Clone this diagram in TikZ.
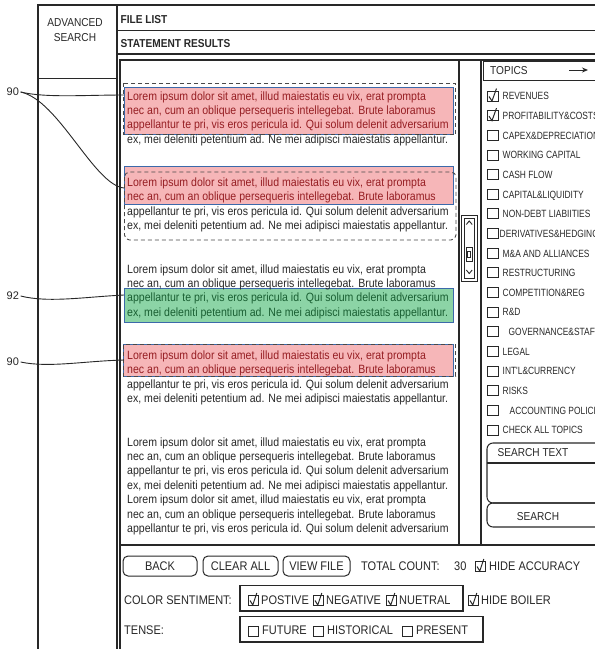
\documentclass[tikz,border=0pt]{standalone}
\usepackage{fontspec}
\setmainfont{Liberation Sans}
\newfontfamily\bodyf[FakeStretch=0.88]{Liberation Sans}
\newfontfamily\topf[FakeStretch=0.8]{Liberation Sans}
\usetikzlibrary{arrows.meta}
\definecolor{ink}{RGB}{40,40,40}
\definecolor{hlred}{RGB}{246,182,184}
\definecolor{hlgreen}{RGB}{140,212,166}
\definecolor{hlblue}{RGB}{60,105,170}
\definecolor{redtxt}{RGB}{150,30,35}
\definecolor{greentxt}{RGB}{25,95,50}
\newcommand\LoremA{Lorem ipsum dolor sit amet, illud maiestatis eu vix, erat prompta}
\newcommand\LoremB{nec an, cum an oblique persequeris intellegebat. Brute laboramus}
\newcommand\LoremC{appellantur te pri, vis eros pericula id. Qui solum delenit adversarium}
\newcommand\LoremD{ex, mei deleniti petentium ad. Ne mei adipisci maiestatis appellantur.}
\begin{document}
\begin{tikzpicture}[x=1pt,y=-1pt,
  frame/.style={draw=ink, line width=1.05pt},
  bodytxt/.style={anchor=base west, inner sep=0pt, text=ink, font=\bodyf\fontsize{12}{14}\selectfont},
  uitxt/.style={inner sep=0pt, text=ink, font=\bodyf\fontsize{11.5}{14}\selectfont},
  bottxt/.style={anchor=base west, inner sep=0pt, text=ink, font=\bodyf\fontsize{12.5}{14}\selectfont},
  toptxt/.style={anchor=base west, inner sep=0pt, text=ink, font=\topf\fontsize{10.5}{12}\selectfont},
  labtxt/.style={anchor=west, inner sep=1.5pt, text=ink, font=\fontsize{11}{13}\selectfont},
  cbox/.style={draw=ink, line width=0.9pt, minimum width=11pt, minimum height=10pt, inner sep=0pt},
  cbsmall/.style={draw=ink, line width=0.9pt, minimum width=10pt, minimum height=10pt, inner sep=0pt},
  checkmk/.style={draw=ink, line width=1pt},
  btn/.style={draw=ink, line width=1pt, rounded corners=5pt, minimum height=20pt, inner sep=0pt, text=ink, font=\bodyf\fontsize{12.5}{14}\selectfont},
  redhl/.style={fill=hlred, draw=hlblue, line width=0.9pt},
  greenhl/.style={fill=hlgreen, draw=hlblue, line width=0.9pt},
  dashbox/.style={draw=ink!85, line width=0.9pt, dash pattern=on 4pt off 3pt},
  leader/.style={draw=ink, line width=0.9pt}
]
\useasboundingbox (0,0) rectangle (595,649);
\clip (0,0) rectangle (595,649);
\fill[white] (0,0) rectangle (595,649);

% ---- frame ----
\draw[frame] (38,652) -- (38,5) -- (600,5);
\draw[frame] (117,5) -- (117,652);
\draw[frame] (38,78.5) -- (117,78.5);
\draw[frame] (117,30.5) -- (600,30.5);
\draw[frame] (117,54) -- (600,54);
\draw[frame] (120,652) -- (120,60) -- (600,60);
\draw[frame] (120,545) -- (600,545);
\draw[frame] (459,60) -- (459,545);
\draw[frame] (481,60) -- (481,545);

% ---- headers ----
\node[uitxt, anchor=base] (adv1) at (75,26.5) {ADVANCED};
\node[uitxt, anchor=base] (adv2) at (75,41.5) {SEARCH};
\node[uitxt, anchor=base west, font=\bodyf\bfseries\fontsize{11.5}{14}\selectfont] (filelist) at (120.5,23) {FILE LIST};
\node[uitxt, anchor=base west, font=\bodyf\bfseries\fontsize{11.5}{14}\selectfont] (stmt) at (120.5,47) {STATEMENT RESULTS};

% ---- highlights ----
\path[redhl] (124,87) rectangle (453,134);
\path[redhl] (124,166) rectangle (453,204);
\path[greenhl] (124,288) rectangle (453,322);
\path[redhl] (123,344) rectangle (453,376);
\path[dashbox] (123,83) rectangle (455.5,134.5);
\path[dashbox, rounded corners=5pt] (124.5,172) rectangle (456,240);
\path[dashbox] (123,344.5) rectangle (455.5,376);

% ---- body text ----
\node[bodytxt, text=redtxt] (b1l1) at (127,100) {\LoremA};
\node[bodytxt, text=redtxt] (b1l2) at (127,114.4) {\LoremB};
\node[bodytxt, text=redtxt] (b1l3) at (127,128.8) {\LoremC};
\node[bodytxt] (b1l4) at (127,143.2) {\LoremD};

\node[bodytxt, text=redtxt] (b2l1) at (127,186.5) {\LoremA};
\node[bodytxt, text=redtxt] (b2l2) at (127,200.9) {\LoremB};
\node[bodytxt] (b2l3) at (127,215.3) {\LoremC};
\node[bodytxt] (b2l4) at (127,229.7) {\LoremD};

\node[bodytxt] (b3l1) at (127,273) {\LoremA};
\node[bodytxt] (b3l2) at (127,287.4) {\LoremB};
\node[bodytxt, text=greentxt] (b3l3) at (127,301.8) {\LoremC};
\node[bodytxt, text=greentxt] (b3l4) at (127,316.2) {\LoremD};

\node[bodytxt, text=redtxt] (b4l1) at (127,359.5) {\LoremA};
\node[bodytxt, text=redtxt] (b4l2) at (127,373.9) {\LoremB};
\node[bodytxt] (b4l3) at (127,388.3) {\LoremC};
\node[bodytxt] (b4l4) at (127,402.7) {\LoremD};

\node[bodytxt] (b5l1) at (127,446) {\LoremA};
\node[bodytxt] (b5l2) at (127,460.4) {\LoremB};
\node[bodytxt] (b5l3) at (127,474.8) {\LoremC};
\node[bodytxt] (b5l4) at (127,489.2) {\LoremD};
\node[bodytxt] (b5l5) at (127,503.6) {\LoremA};
\node[bodytxt] (b5l6) at (127,518) {\LoremB};
\node[bodytxt] (b5l7) at (127,532.4) {\LoremC};

% ---- reference labels and leaders ----
\node[labtxt] (lab90a) at (5,92) {90};
\node[labtxt] (lab92) at (5,296) {92};
\node[labtxt] (lab90b) at (5,362) {90};
\coordinate (e1) at (124,95);
\coordinate (e2) at (124,188);
\coordinate (e3) at (124,295);
\coordinate (e4) at (124,360);
\draw[leader] (lab90a.east) .. controls +(25,6) and +(-40,0) .. (e1);
\draw[leader] (lab90a.east) .. controls +(38,8) and +(-30,-3) .. (e2);
\draw[leader] (lab92.east) .. controls +(28,7) and +(-40,2) .. (e3);
\draw[leader] (lab90b.east) .. controls +(28,6) and +(-40,1) .. (e4);

% ---- scroll widget ----
\path[frame, line width=0.9pt] (461.5,215) rectangle (477,281.5);
\path[frame, line width=0.9pt] (464,218) rectangle (474.5,278.5);
\draw[frame, line width=0.9pt] (466.3,224.5) -- (469.25,221) -- (472.2,224.5);
\draw[frame, line width=0.9pt] (466.3,270) -- (469.25,273.5) -- (472.2,270);
\path[frame, line width=0.9pt] (466,247) rectangle (472.5,261);
\path[frame, line width=0.8pt] (467.8,251) rectangle (470.8,257);

% ---- topics panel ----
\node[draw=ink, line width=1.05pt, anchor=north west, minimum width=130pt, minimum height=19.5pt, inner sep=0pt] (topicsbox) at (483,60.5) {};
\node[uitxt, anchor=base west] (topicslab) at (490,74.5) {TOPICS};
\coordinate (arrS) at (569,70);
\coordinate (arrE) at (588,70);
\draw[draw=ink, line width=1pt, -{Stealth[length=6pt,width=5pt]}] (arrS) -- (arrE);

\foreach \lab/\dx [count=\i from 0] in {REVENUES/0, PROFITABILITY\&COSTS/0, CAPEX\&DEPRECIATION/0, WORKING CAPITAL/0, CASH FLOW/0, CAPITAL\&LIQUIDITY/0, NON-DEBT LIABIITIES/0, DERIVATIVES\&HEDGING/-3, M\&A AND ALLIANCES/0, RESTRUCTURING/0, COMPETITION\&REG/0, R\&D/0, GOVERNANCE\&STAFF/6, LEGAL/0, INT'L\&CURRENCY/0, RISKS/0, ACCOUNTING POLICIES/7, CHECK ALL TOPICS/0} {
  \node[cbox] (tcb\i) at (492.5,{96+19.65*\i}) {};
  \node[toptxt] (ttx\i) at ({502.5+\dx},{99.8+19.65*\i}) {\lab};
}
\draw[checkmk] (tcb0.center) ++(-3.5,0.5) -- ++(3,4.5) -- ++(4.5,-12.5);
\draw[checkmk] (tcb1.center) ++(-3.5,0.5) -- ++(3,4.5) -- ++(4.5,-12.5);

% search box
\path[frame, rounded corners=6pt] (487,443) rectangle (615,503);
\draw[frame] (487,463) -- (615,463);
\path[frame, rounded corners=6pt] (487,503) rectangle (615,527);
\node[uitxt] (searchtext) at (533,452.5) {SEARCH TEXT};
\node[uitxt] (searchbtn) at (538,516.5) {SEARCH};

% ---- bottom controls ----
\node[btn, minimum width=74pt] (back) at (160,566) {BACK};
\node[btn, minimum width=75pt] (clear) at (240.5,566) {CLEAR ALL};
\node[btn, minimum width=67pt] (view) at (316.5,566) {VIEW FILE};
\node[bottxt] (total) at (361,570.5) {TOTAL COUNT:};
\node[bottxt] (count) at (454,570.5) {30};
\node[cbsmall] (cbacc) at (480,566) {};
\draw[checkmk] (cbacc.center) ++(-3,0.5) -- ++(2.8,4.5) -- ++(4,-12);
\node[bottxt] (hideacc) at (489,570.5) {HIDE ACCURACY};

\node[bottxt] (colsent) at (124,604.5) {COLOR SENTIMENT:};
\path[frame] (240,585.5) rectangle (463,611);
\node[cbsmall] (cbpos) at (253,600) {};
\node[bottxt] (pos) at (261,604.5) {POSTIVE};
\node[cbsmall] (cbneg) at (318,600) {};
\node[bottxt] (neg) at (326,604.5) {NEGATIVE};
\node[cbsmall] (cbneu) at (391,600) {};
\node[bottxt] (neu) at (399,604.5) {NUETRAL};
\node[cbsmall] (cbboil) at (473,600) {};
\node[bottxt] (boil) at (481,604.5) {HIDE BOILER};
\foreach \c in {cbpos,cbneg,cbneu,cbboil}{
  \draw[checkmk] (\c.center) ++(-3,0.5) -- ++(2.8,4.5) -- ++(4,-12);
}

\node[bottxt] (tense) at (124,634.5) {TENSE:};
\path[frame] (240,616.5) rectangle (483,642);
\node[cbsmall] (cbfut) at (253,631) {};
\node[bottxt] (fut) at (262,634.5) {FUTURE};
\node[cbsmall] (cbhis) at (318,631) {};
\node[bottxt] (his) at (327,634.5) {HISTORICAL};
\node[cbsmall] (cbpre) at (407,631) {};
\node[bottxt] (pre) at (416,634.5) {PRESENT};
\end{tikzpicture}
\end{document}
